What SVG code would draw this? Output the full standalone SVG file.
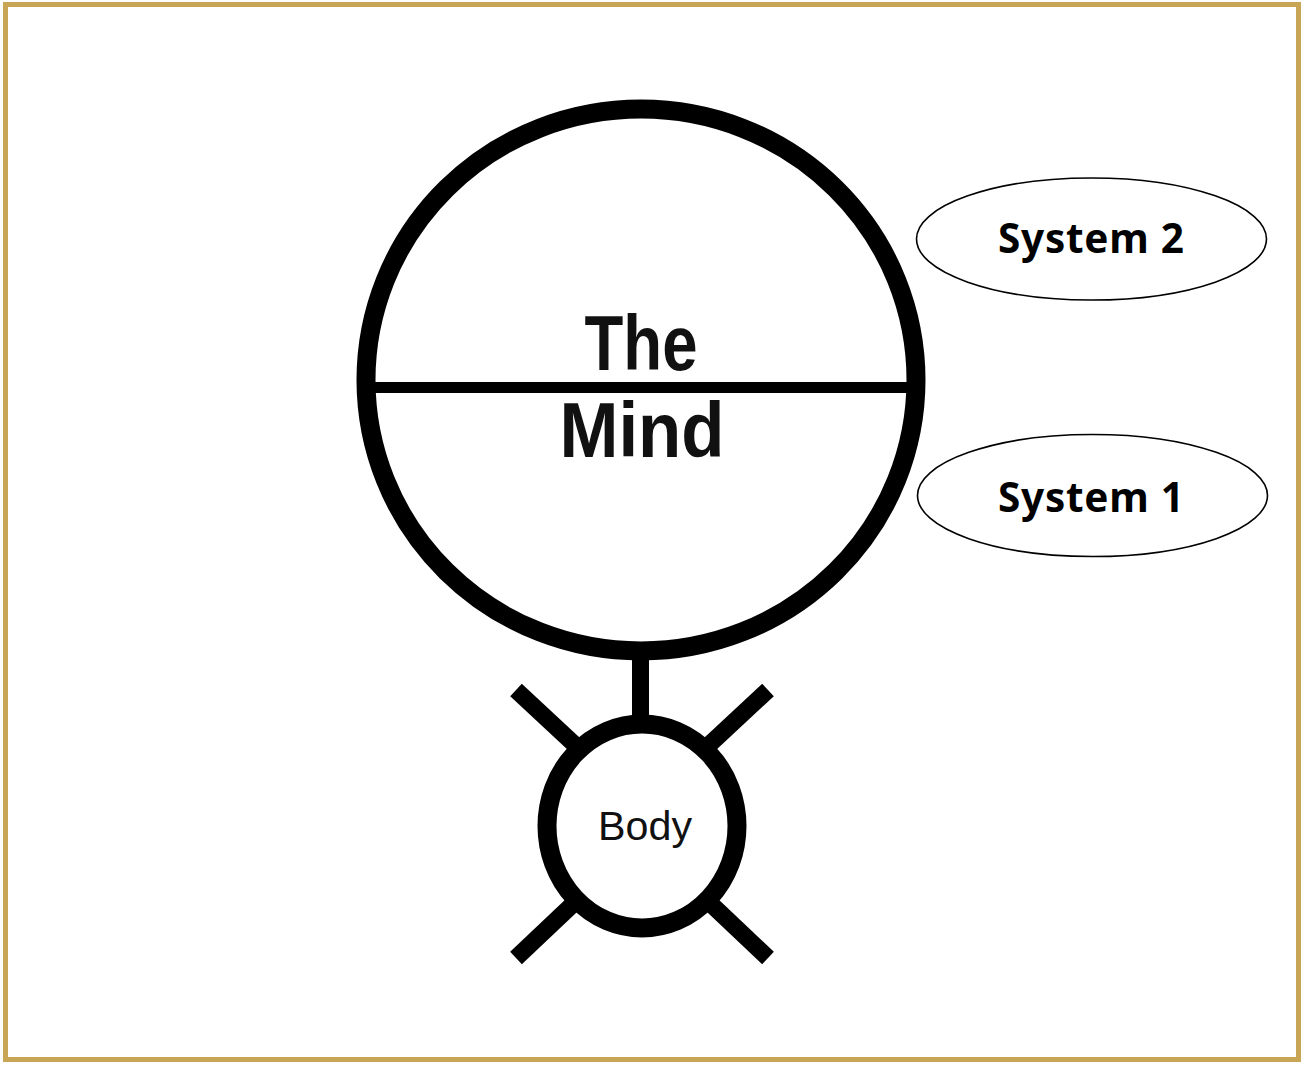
<svg xmlns="http://www.w3.org/2000/svg" width="1304" height="1065" viewBox="0 0 1304 1065">
<style>
.thick{fill:none;stroke:#000;stroke-width:19}
.bar{stroke:#000;stroke-width:17;stroke-linecap:butt}
.oval{fill:#fff;stroke:#000;stroke-width:1.6}
.hand{font-family:"Liberation Sans",Arial,sans-serif;fill:#111;text-anchor:middle}
.sys{font-family:"Noto Sans","Open Sans",sans-serif;font-weight:bold;font-size:40.5px;fill:#000;text-anchor:middle}
</style>
<rect x="0" y="0" width="1304" height="1065" fill="#fff"/>
<rect x="5.5" y="4.5" width="1293" height="1055" fill="none" stroke="#c9a655" stroke-width="5"/>
<g id="connectors">
<line class="bar" x1="640.5" y1="652" x2="640.5" y2="722"/>
<line class="bar" x1="516" y1="690" x2="574" y2="744"/>
<line class="bar" x1="768" y1="690" x2="710" y2="744"/>
<line class="bar" x1="516" y1="958" x2="572" y2="905"/>
<line class="bar" x1="768" y1="958" x2="712" y2="905"/>
</g>
<g id="mind">
<ellipse class="thick" cx="641" cy="380" rx="275" ry="271"/>
<line x1="368" y1="387.5" x2="914" y2="387.5" stroke="#000" stroke-width="11"/>
<text class="hand" x="641" y="370" font-size="78" font-weight="bold" textLength="113" lengthAdjust="spacingAndGlyphs">The</text>
<text class="hand" x="642" y="457" font-size="78" font-weight="bold" textLength="165" lengthAdjust="spacingAndGlyphs">Mind</text>
</g>
<g id="body">
<ellipse class="thick" cx="642" cy="826" rx="95" ry="102" fill="#fff"/>
<text class="hand" x="645" y="840" font-size="41" textLength="94" lengthAdjust="spacingAndGlyphs">Body</text>
</g>
<g id="system2">
<ellipse class="oval" cx="1091.5" cy="239" rx="175" ry="61"/>
<text class="sys" x="1091" y="253" textLength="186" lengthAdjust="spacing">System 2</text>
</g>
<g id="system1">
<ellipse class="oval" cx="1092.5" cy="495.5" rx="175" ry="61"/>
<text class="sys" x="1091" y="512" textLength="186" lengthAdjust="spacing">System 1</text>
</g>
</svg>
